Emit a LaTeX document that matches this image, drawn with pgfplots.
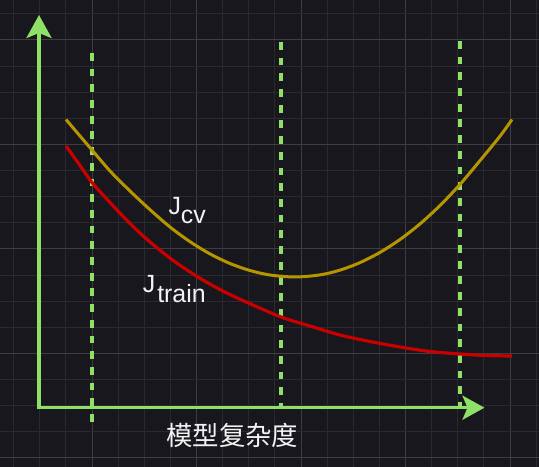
\documentclass[border=0pt]{standalone}
\usepackage{pgfplots}
\pgfplotsset{compat=1.18}
\usepackage{fontspec}
\setmainfont{Liberation Sans}
\newfontfamily\cjk{Noto Sans CJK SC}
\usetikzlibrary{arrows.meta}
\definecolor{bg}{RGB}{25,23,30}
\definecolor{gridmin}{RGB}{42,41,47}
\definecolor{gridmaj}{RGB}{62,61,66}
\definecolor{axgreen}{RGB}{143,224,102}
\definecolor{cvcol}{RGB}{181,150,0}
\definecolor{trcol}{RGB}{200,0,0}
\definecolor{txt}{RGB}{242,242,242}
\begin{document}
\begin{tikzpicture}
\begin{axis}[
  at={(0,0)}, anchor=south west,
  width=539bp, height=467bp, scale only axis,
  xmin=0, xmax=539, ymin=0, ymax=467,
  axis line style={draw=none},
  xtick={92,196.5,301,405.5,510},
  minor xtick={13.625,39.75,65.875,118.125,144.25,170.375,222.625,248.75,274.875,327.125,353.25,379.375,431.625,457.75,483.875,536.125},
  ytick={9,113.5,218,322.5,427},
  minor ytick={35.125,61.25,87.375,139.625,165.75,191.875,244.125,270.25,296.375,348.625,374.75,400.875,453.125},
  xticklabels={}, yticklabels={},
  major tick length=0pt, minor tick length=0pt,
  grid=both,
  major grid style={color=gridmaj, line width=1bp},
  minor grid style={color=gridmin, line width=1bp},
  axis background/.style={fill=bg},
  clip=false,
]
% axes with arrows
\addplot[axgreen, line width=3.4bp, -{Stealth[length=23bp,width=25bp,inset=5bp]}] coordinates {(39,57.6) (39,452)};
\addplot[axgreen, line width=3.4bp, -{Stealth[length=22bp,width=24bp,inset=5bp]}] coordinates {(37.3,59.3) (484.5,59.3)};
% dashed verticals
\addplot[axgreen, line width=3.3bp, dash pattern=on 7.8bp off 7.9bp] coordinates {(92,414) (92,45)};
\addplot[axgreen, line width=3.3bp, dash pattern=on 7.8bp off 7.9bp] coordinates {(281,425) (281,60)};
\addplot[axgreen, line width=3.3bp, dash pattern=on 7.8bp off 7.9bp] coordinates {(460,426) (460,60)};
% J_cv
\addplot[cvcol, line width=3bp, smooth] coordinates {
(66,347.5) (80,331) (92,317) (110,296) (130,276) (150,257.3) (170,240) (190,225.3) (210,213.1) (230,203.5) (250,196.5) (270,192) (295,190) (320,192.1) (340,196.9) (360,204.4) (380,214.6) (400,227.5) (420,243.1) (440,261.5) (460,282.6) (480,306.4) (500,330.8) (512,347.5)
};
% J_train
\addplot[trcol, line width=3.2bp, smooth] coordinates {
(66,321) (80,301.5) (92,284.5) (110,264.5) (130,243.5) (150,225) (175,205.2) (200,188.7) (225,174.9) (250,163.3) (281,150) (310,141) (340,132) (370,125.5) (400,120) (430,115.5) (460,113) (486,111.5) (512,111)
};
\node[anchor=base west, inner sep=0pt, text=txt, font=\fontsize{25}{30}\selectfont] at (axis cs:168.3,252) {J\raisebox{-9bp}{cv}};
\node[anchor=base west, inner sep=0pt, text=txt, font=\fontsize{25}{30}\selectfont] at (axis cs:142.6,174) {J\hspace{2bp}\raisebox{-9.3bp}{train}};
\node[anchor=base west, inner sep=0pt, text=txt, font=\cjk\fontsize{26.5}{30}\selectfont] at (axis cs:166,22) {模型复杂度};
\end{axis}
\pgfresetboundingbox
\path (0,0) rectangle (539bp,467bp);
\end{tikzpicture}
\end{document}
